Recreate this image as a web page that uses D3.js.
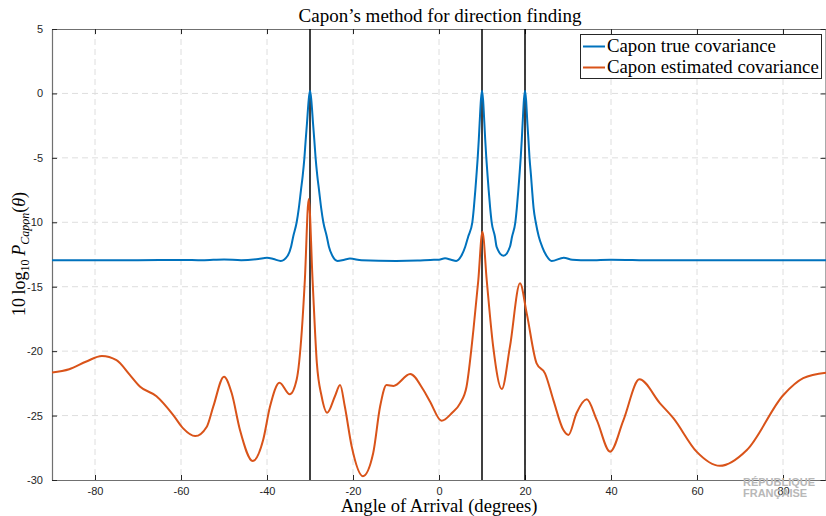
<!DOCTYPE html>
<html><head><meta charset="utf-8">
<script src="https://cdn.jsdelivr.net/npm/d3@7"></script>
<style>body{margin:0;background:#fff}svg{display:block}</style>
</head><body>
<svg id="c" width="826" height="516"></svg>
<script>
// ---- data ----
const xTickValues = [-80, -60, -40, -20, 0, 20, 40, 60, 80];
const yTickValues = [5, 0, -5, -10, -15, -20, -25, -30];
const sourceAngles = [-30, 10, 20];
const seriesNames = ["Capon true covariance", "Capon estimated covariance"];

const trueAngles = [-90,-80,-70,-60,-55,-50,-46,-42,-40,-38.5,-36.8,-35.2,-34.4,-33.9,-33.1,-32.6,-32.1,-31.7,-31.3,-31.0,-30.7,-30.3,-30,-29.7,-29.3,-29.0,-28.7,-28.3,-27.9,-27.4,-26.9,-26.1,-25.6,-24.8,-23.6,-22,-20.7,-18,-10,-5,-2,0,1.4,2.8,4.0,5.2,6.1,6.8,7.75,8.1,8.45,8.7,9.0,9.25,9.45,9.75,10,10.25,10.55,10.75,11.0,11.3,11.55,11.9,12.25,13.0,13.4,15,16.5,17.0,17.75,18.1,18.45,18.7,19.0,19.25,19.45,19.75,20,20.25,20.55,20.8,21.05,21.4,21.65,22.0,22.5,23.2,24.0,25.0,26.2,29,31,35,40,50,60,70,80,90];
const trueValues = [-12.95,-12.95,-12.95,-12.92,-12.95,-12.88,-12.95,-12.85,-12.75,-12.85,-13.0,-12.6,-11.9,-11.1,-10.0,-8.9,-7.5,-6.4,-5.0,-3.6,-2.3,-0.5,0.2,-0.5,-2.3,-3.6,-5.0,-6.4,-7.5,-8.9,-10.0,-11.1,-11.9,-12.6,-13.0,-12.9,-12.82,-12.95,-13.0,-12.97,-12.92,-12.9,-12.8,-12.9,-13.0,-12.6,-11.9,-11.1,-10.0,-8.9,-7.5,-6.4,-5.0,-3.6,-2.3,-0.5,0.2,-0.5,-2.3,-3.6,-5.0,-6.4,-7.5,-8.9,-10.0,-11.1,-11.9,-12.6,-11.9,-11.1,-10.0,-8.9,-7.5,-6.4,-5.0,-3.6,-2.3,-0.5,0.2,-0.5,-2.3,-3.6,-5.0,-6.4,-7.5,-8.9,-10.0,-11.1,-11.9,-12.6,-13.0,-12.75,-12.9,-12.95,-12.9,-12.95,-12.95,-12.95,-12.95,-12.95];

const estAngles = [-90,-86,-82,-78.4,-75,-72,-69.5,-65.7,-61.8,-59.5,-56.7,-54.0,-52.5,-50.0,-48.2,-46.3,-43.3,-40.9,-39.3,-37.1,-34.7,-33.1,-31.9,-31.2,-30.3,-29.4,-28.4,-27.3,-26.0,-24.2,-23.0,-21.9,-20.3,-17.7,-15.3,-13.7,-12.2,-10.6,-6.7,-3.65,-2.1,0.6,3,4.9,6.4,8.0,9.14,10.1,11.1,12.6,14.6,16.5,18.84,20.4,22.7,24.65,26.6,28.9,30.1,32.0,34.35,36.7,39.8,42.9,46.6,51.4,54.5,59.9,65.3,71.6,80.1,84.7,90];
const estValues = [-21.65,-21.4,-20.8,-20.38,-20.7,-21.8,-22.76,-23.5,-24.96,-25.99,-26.59,-25.86,-24.31,-21.98,-23.27,-26.1,-28.53,-26.9,-24.3,-22.45,-23.35,-22.2,-18.4,-14.5,-8.2,-14.5,-20.95,-23.5,-24.78,-23.5,-22.63,-24.3,-27.4,-29.7,-27.9,-24.3,-22.63,-22.7,-21.78,-23.0,-23.9,-25.4,-24.8,-24.05,-22.76,-18.36,-14.5,-10.73,-14.5,-19.65,-22.94,-19.65,-14.74,-17.07,-20.95,-21.72,-23.8,-26.1,-26.5,-24.8,-23.74,-25.35,-27.8,-25.35,-22.19,-24.05,-25.2,-27.8,-28.9,-27.67,-23.4,-22.1,-21.67];

// ---- layout ----
const L = 52, R = 826, T = 29, B = 480;
const svg = d3.select("#c");
const x = d3.scaleLinear().domain([-90, 90]).range([L, R]);
const y = d3.scaleLinear().domain([-30, 5]).range([B, T]);
const serif = "'Liberation Serif', 'Times New Roman', serif";
const sans = "'Liberation Sans', Arial, Helvetica, sans-serif";
const blue = "#0072BD", orange = "#D95319";
const fmt = d => String(d); // plain hyphen minus like the reference

// grid
const grid = svg.append("g").attr("stroke", "#dedede").attr("stroke-width", 1).attr("stroke-dasharray", "6,4");
grid.selectAll(".gx").data(xTickValues).join("line")
  .attr("x1", d => x(d)).attr("x2", d => x(d)).attr("y1", T).attr("y2", B);
grid.selectAll(".gy").data(yTickValues.filter(v => v > -30 && v < 5)).join("line")
  .attr("x1", L).attr("x2", R).attr("y1", d => y(d)).attr("y2", d => y(d));

// axes (MATLAB style, inward ticks, box)
const axColor = "#262626";
function styleAxis(g, hideLabels) {
  g.select(".domain").attr("stroke", "#707070").attr("stroke-width", 1.2);
  g.selectAll(".tick line").attr("stroke", axColor).attr("stroke-width", 1);
  g.selectAll(".tick text").attr("fill", axColor).style("font-family", sans).style("font-size", "11px");
  if (hideLabels) g.selectAll(".tick text").remove();
}
svg.append("g").attr("transform", `translate(0,${B})`)
  .call(d3.axisBottom(x).tickValues(xTickValues).tickFormat(fmt).tickSizeInner(-5).tickSizeOuter(0).tickPadding(7.5))
  .call(g => styleAxis(g, false));
svg.append("g").attr("transform", `translate(0,${T})`)
  .call(d3.axisTop(x).tickValues(xTickValues).tickSizeInner(-5).tickSizeOuter(0))
  .call(g => styleAxis(g, true));
svg.append("g").attr("transform", `translate(${L},0)`)
  .call(d3.axisLeft(y).tickValues(yTickValues).tickFormat(fmt).tickSizeInner(-5).tickSizeOuter(0).tickPadding(9))
  .call(g => styleAxis(g, false));
svg.append("g").attr("transform", `translate(${R - 0.5},0)`)
  .call(d3.axisRight(y).tickValues(yTickValues).tickSizeInner(-5).tickSizeOuter(0))
  .call(g => styleAxis(g, true));

// clip
svg.append("clipPath").attr("id", "clip").append("rect").attr("x", L).attr("y", T).attr("width", R - L).attr("height", B - T);

// source lines
svg.append("g").selectAll("line").data(sourceAngles).join("line")
  .attr("x1", d => x(d)).attr("x2", d => x(d)).attr("y1", T).attr("y2", B)
  .attr("stroke", "#000").attr("stroke-width", 1.5);

// curves
const line = d3.line().x(d => x(d[0])).y(d => y(d[1])).curve(d3.curveMonotoneX);
const trueData = trueAngles.map((a, i) => [a, trueValues[i]]);
const estData = estAngles.map((a, i) => [a, estValues[i]]);
const plot = svg.append("g").attr("clip-path", "url(#clip)");
plot.append("path").datum(trueData).attr("d", line).attr("fill", "none").attr("stroke", blue).attr("stroke-width", 2);
plot.append("path").datum(estData).attr("d", line).attr("fill", "none").attr("stroke", orange).attr("stroke-width", 2);

// title
svg.append("text").attr("x", 440).attr("y", 22).attr("text-anchor", "middle")
  .style("font-family", serif).style("font-size", "19px").attr("fill", "#000")
  .text("Capon\u2019s method for direction finding");

// x label
svg.append("text").attr("x", 439).attr("y", 512).attr("text-anchor", "middle")
  .style("font-family", serif).style("font-size", "18.6px").attr("fill", "#000")
  .text("Angle of Arrival (degrees)");

// y label
const yl = svg.append("text").attr("transform", "translate(25,254) rotate(-90)").attr("text-anchor", "middle")
  .style("font-family", serif).style("font-size", "18px").attr("fill", "#000");
yl.append("tspan").text("10\u2009log");
yl.append("tspan").attr("dy", 4).style("font-size", "12px").text("10");
yl.append("tspan").attr("dy", -4).text("\u2009");
yl.append("tspan").style("font-style", "italic").text("P");
yl.append("tspan").attr("dy", 4).style("font-size", "12px").style("font-style", "italic").text("Capon");
yl.append("tspan").attr("dy", -4).text("(");
yl.append("tspan").style("font-style", "italic").text("\u03b8");
yl.append("tspan").text(")");

// legend
const lg = svg.append("g");
lg.append("rect").attr("x", 580.5).attr("y", 34.5).attr("width", 241).attr("height", 44)
  .attr("fill", "#fff").attr("stroke", "#262626").attr("stroke-width", 1);
const items = [[seriesNames[0], blue, 46.5], [seriesNames[1], orange, 67.5]];
items.forEach(([name, col, yy]) => {
  lg.append("line").attr("x1", 583).attr("x2", 605).attr("y1", yy).attr("y2", yy).attr("stroke", col).attr("stroke-width", 2);
  lg.append("text").attr("x", 607).attr("y", yy + 5).style("font-family", serif).style("font-size", "18.8px").attr("fill", "#000").text(name);
});

// watermark present in reference corner
const wm = svg.append("g").attr("fill", "#b8b8b8").style("font-family", sans).style("font-weight", "bold").style("font-size", "11px");
wm.append("text").attr("x", 743).attr("y", 486).text("RÉPUBLIQUE");
wm.append("text").attr("x", 743).attr("y", 497).text("FRANÇAISE");
</script>
</body></html>
